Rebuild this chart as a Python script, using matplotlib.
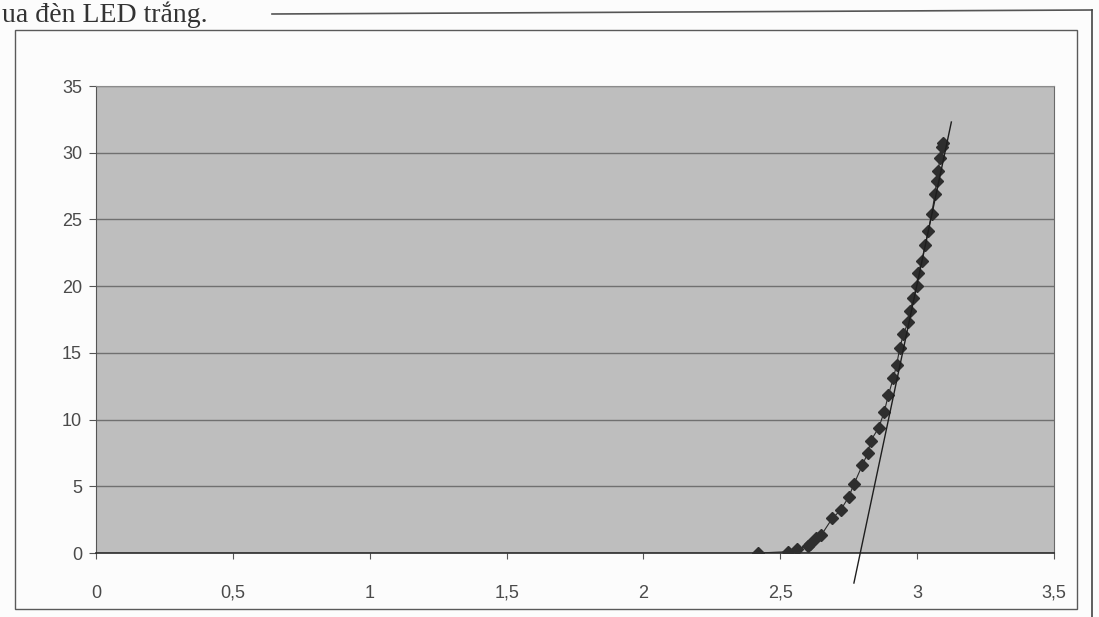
import matplotlib.pyplot as plt
from matplotlib.lines import Line2D
from matplotlib.patches import Rectangle

# I-V curve of a white LED (scanned Excel chart).
voltage = [2.42, 2.53, 2.56, 2.60, 2.61, 2.63, 2.65, 2.69, 2.72, 2.75, 2.77, 2.80,
           2.82, 2.83, 2.86, 2.88, 2.895, 2.913, 2.925, 2.937, 2.95, 2.968, 2.974,
           2.986, 2.998, 3.004, 3.016, 3.03, 3.04, 3.053, 3.065, 3.071, 3.077,
           3.083, 3.089, 3.093]
current = [0.0, 0.1, 0.3, 0.5, 0.7, 1.1, 1.35, 2.6, 3.2, 4.2, 5.2, 6.6,
           7.5, 8.4, 9.4, 10.6, 11.85, 13.1, 14.1, 15.4, 16.4, 17.35, 18.1,
           19.1, 20.0, 21.0, 21.85, 23.1, 24.1, 25.4, 26.9, 27.85, 28.6,
           29.6, 30.4, 30.7]

# tangent line drawn on the linear part
fit_voltage = [2.769, 3.125]
fit_current = [-2.25, 32.3]

x_ticks = [0, 0.5, 1, 1.5, 2, 2.5, 3, 3.5]
x_tick_labels = ["0", "0,5", "1", "1,5", "2", "2,5", "3", "3,5"]
y_ticks = [0, 5, 10, 15, 20, 25, 30, 35]

W, H = 1099, 617
fig = plt.figure(figsize=(W / 100, H / 100), dpi=100)
fig.patch.set_facecolor('#fcfcfc')

ax = fig.add_axes([96 / W, 1 - 553 / H, (1054 - 96) / W, (553 - 86) / H])
ax.set_facecolor('#bebebe')

ax.plot(voltage, current, color='#2a2a2a', lw=0.8, marker='D', markersize=6.5,
        markerfacecolor='#2e2e2e', markeredgecolor='#2e2e2e', zorder=3)
ax.plot(fit_voltage, fit_current, color='#1e1e1e', lw=1.0, clip_on=False, zorder=4)

ax.set_xlim(0, 3.5)
ax.set_ylim(0, 35)
ax.set_xticks(x_ticks)
ax.set_xticklabels(x_tick_labels)
ax.set_yticks(y_ticks)
ax.yaxis.grid(True, color='#707070', lw=1.0)
ax.set_axisbelow(True)

ax.tick_params(axis='x', direction='out', length=4, width=0.8, color='#555555',
               pad=19, labelsize=13, labelcolor='#4a4a4a')
ax.tick_params(axis='y', direction='out', length=5, width=0.8, color='#555555',
               pad=5, labelsize=13, labelcolor='#4a4a4a')
for lbl in ax.get_xticklabels() + ax.get_yticklabels():
    lbl.set_family('Liberation Sans')

ax.spines['left'].set_color('#555555')
ax.spines['bottom'].set_color('#2a2a2a')
ax.spines['bottom'].set_linewidth(1.2)
ax.spines['top'].set_color('#8c8c8c')
ax.spines['right'].set_color('#6a6a6a')

# chart frame and page edges from the scan
fig.add_artist(Rectangle((15 / W, 1 - 609 / H), (1077 - 15) / W, (609 - 30) / H,
                         transform=fig.transFigure, fill=False,
                         edgecolor='#5a5a5a', lw=1.0))
fig.add_artist(Line2D([272 / W, 1092 / W], [1 - 14 / H, 1 - 10 / H],
                      transform=fig.transFigure, color='#555555', lw=1.2))
fig.add_artist(Line2D([1092 / W, 1092 / W], [1 - 10 / H, 0],
                      transform=fig.transFigure, color='#444444', lw=1.2))

# caption text above the chart
fig.text(2 / W, 1 - 1 / H, "ua đèn LED trắng.", family='Liberation Serif',
         fontsize=20, color='#333333', va='top', ha='left')

fig.savefig('out.png', dpi=100, facecolor=fig.get_facecolor())
